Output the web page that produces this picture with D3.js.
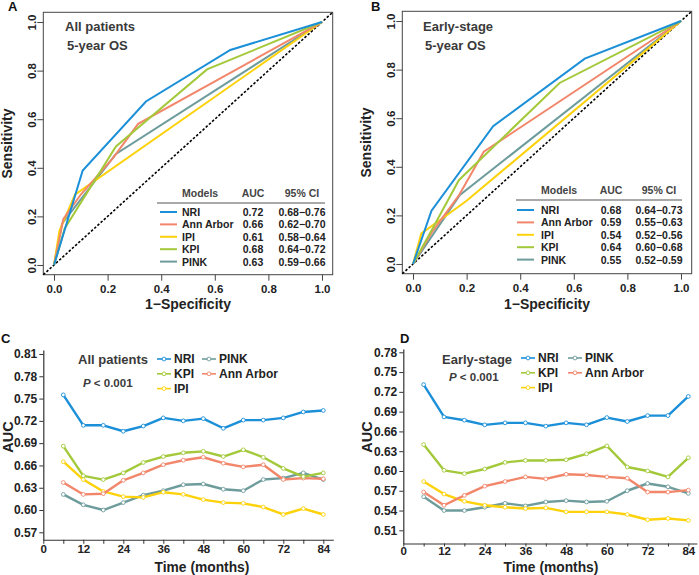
<!DOCTYPE html>
<html>
<head>
<meta charset="utf-8">
<script src="https://cdn.jsdelivr.net/npm/d3@7"></script>
<style>
  body { margin: 0; background: #fff; }
  svg { font-family: "Liberation Sans", Arial, sans-serif; font-weight: bold; }
</style>
</head>
<body>
<svg id="chart" width="699" height="575"></svg>
<script>
// models and colours
const models = ["NRI", "Ann Arbor", "IPI", "KPI", "PINK"];
const colors = { "NRI": "#1b8fd8", "Ann Arbor": "#f2866a", "IPI": "#fdd20a", "KPI": "#a3c93a", "PINK": "#6e9c9c" };

// ROC, all patients (fpr, tpr)
const rocA_NRI = [[0, 0], [0.107, 0.389], [0.343, 0.673], [0.658, 0.885], [1, 1]];
const rocA_Ann = [[0, 0], [0.035, 0.19], [0.1, 0.29], [0.22, 0.44], [0.314, 0.581], [1, 1]];
const rocA_IPI = [[0, 0], [0.02, 0.14], [0.078, 0.289], [1, 1]];
const rocA_KPI = [[0, 0], [0.04, 0.15], [0.231, 0.488], [0.571, 0.805], [1, 1]];
const rocA_PINK = [[0, 0], [0.03, 0.17], [0.231, 0.457], [1, 1]];
const aucA = ["0.72", "0.66", "0.61", "0.68", "0.63"];
const ciA = ["0.68\u22120.76", "0.62\u22120.70", "0.58\u22120.64", "0.64\u22120.72", "0.59\u22120.66"];

// ROC, early-stage
const rocB_NRI = [[0, 0], [0.069, 0.219], [0.299, 0.567], [0.641, 0.845], [1, 1]];
const rocB_Ann = [[0, 0], [0.07, 0.13], [0.17, 0.28], [0.264, 0.462], [1, 1]];
const rocB_IPI = [[0, 0], [0.031, 0.126], [0.1, 0.18], [0.2, 0.26], [1, 1]];
const rocB_KPI = [[0, 0], [0.07, 0.14], [0.171, 0.345], [0.547, 0.745], [1, 1]];
const rocB_PINK = [[0, 0], [0.175, 0.284], [1, 1]];
const aucB = ["0.68", "0.59", "0.54", "0.64", "0.55"];
const ciB = ["0.64\u22120.73", "0.55\u22120.63", "0.52\u22120.56", "0.60\u22120.68", "0.52\u22120.59"];

const rocTicks = [0, 0.2, 0.4, 0.6, 0.8, 1.0];

// time-dependent AUC
const months = [6, 12, 18, 24, 30, 36, 42, 48, 54, 60, 66, 72, 78, 84];
const monthTicks = [0, 6, 12, 18, 24, 30, 36, 42, 48, 54, 60, 66, 72, 78, 84];
const aucC_NRI = [0.755, 0.714, 0.714, 0.706, 0.713, 0.724, 0.720, 0.723, 0.710, 0.721, 0.721, 0.724, 0.732, 0.734];
const aucC_KPI = [0.686, 0.646, 0.641, 0.650, 0.664, 0.672, 0.677, 0.679, 0.672, 0.681, 0.671, 0.656, 0.645, 0.650];
const aucC_Ann = [0.637, 0.621, 0.622, 0.640, 0.650, 0.661, 0.667, 0.671, 0.663, 0.658, 0.661, 0.641, 0.643, 0.642];
const aucC_IPI = [0.665, 0.641, 0.625, 0.618, 0.617, 0.624, 0.621, 0.614, 0.610, 0.609, 0.604, 0.594, 0.602, 0.594];
const aucC_PINK = [0.621, 0.607, 0.600, 0.610, 0.620, 0.626, 0.634, 0.635, 0.628, 0.626, 0.641, 0.643, 0.650, 0.641];
const ticksC = [0.57, 0.60, 0.63, 0.66, 0.69, 0.72, 0.75, 0.78, 0.81];

const aucD_NRI = [0.731, 0.682, 0.677, 0.670, 0.673, 0.673, 0.668, 0.673, 0.670, 0.681, 0.675, 0.684, 0.684, 0.713];
const aucD_KPI = [0.640, 0.601, 0.596, 0.603, 0.613, 0.616, 0.616, 0.617, 0.626, 0.638, 0.606, 0.600, 0.591, 0.620];
const aucD_Ann = [0.568, 0.548, 0.563, 0.577, 0.584, 0.591, 0.588, 0.595, 0.594, 0.591, 0.589, 0.568, 0.568, 0.571];
const aucD_IPI = [0.584, 0.565, 0.554, 0.548, 0.545, 0.543, 0.544, 0.538, 0.538, 0.538, 0.534, 0.526, 0.528, 0.525];
const aucD_PINK = [0.561, 0.540, 0.540, 0.545, 0.551, 0.547, 0.553, 0.555, 0.553, 0.554, 0.570, 0.581, 0.576, 0.566];
const ticksD = [0.51, 0.54, 0.57, 0.60, 0.63, 0.66, 0.69, 0.72, 0.75, 0.78];

const svg = d3.select("#chart");
const textCol = "#222";

function rocPanel(o) {
    const x = d3.scaleLinear().domain([-0.04, 1.04]).range([o.x0, o.x1]);
    const y = d3.scaleLinear().domain([-0.04, 1.04]).range([o.y1, o.y0]);
    const g = svg.append("g");

    g.append("rect")
        .attr("x", x(-0.04)).attr("y", y(1.04))
        .attr("width", x(1.04) - x(-0.04)).attr("height", y(-0.04) - y(1.04))
        .attr("fill", "none").attr("stroke", "#444").attr("stroke-width", 1);

    const xa = g.append("g")
        .attr("transform", `translate(0,${y(-0.04)})`)
        .call(d3.axisBottom(x).tickValues(rocTicks).tickFormat(d3.format(".1f")).tickSize(6).tickPadding(4));
    xa.select(".domain").remove();
    xa.selectAll("text").attr("font-size", 11.5).attr("font-weight", "bold").attr("fill", textCol).attr("font-family", "Liberation Sans");
    xa.selectAll("line").attr("stroke", "#444");

    const ya = g.append("g")
        .attr("transform", `translate(${x(-0.04)},0)`)
        .call(d3.axisLeft(y).tickValues(rocTicks).tickFormat(d3.format(".1f")).tickSize(6));
    ya.select(".domain").remove();
    ya.selectAll("line").attr("stroke", "#444");
    ya.selectAll("text")
        .attr("font-size", 11.5).attr("font-weight", "bold").attr("fill", textCol).attr("font-family", "Liberation Sans")
        .attr("x", 0).attr("y", -7).attr("dy", 0)
        .attr("text-anchor", "middle")
        .attr("transform", "rotate(-90)");

    // diagonal
    g.append("line")
        .attr("x1", x(-0.04)).attr("y1", y(-0.04)).attr("x2", x(1.04)).attr("y2", y(1.04))
        .attr("stroke", "#000").attr("stroke-width", 1.6).attr("stroke-dasharray", "2.5,1.8");

    const line = d3.line().x(d => x(d[0])).y(d => y(d[1]));
    // draw order: PINK, IPI, Ann Arbor, KPI, NRI on top
    const order = ["PINK", "IPI", "Ann Arbor", "KPI", "NRI"];
    order.forEach(m => {
        g.append("path").datum(o.curves[m])
            .attr("d", line).attr("fill", "none")
            .attr("stroke", colors[m]).attr("stroke-width", 2);
    });

    // panel letter and titles
    g.append("text").attr("x", o.letterX).attr("y", 11).text(o.letter)
        .attr("font-size", 13).attr("fill", "#111");
    g.append("text").attr("x", o.titleX).attr("y", 31).text(o.title1)
        .attr("font-size", 13).attr("fill", "#3a3a3a");
    g.append("text").attr("x", o.titleX + 2).attr("y", 50).text("5-year OS")
        .attr("font-size", 13).attr("fill", "#3a3a3a");

    g.append("text").attr("transform", `translate(${o.x0 - 31},${(o.y0 + o.y1) / 2}) rotate(-90)`)
        .attr("text-anchor", "middle").text("Sensitivity").attr("font-size", 14).attr("fill", textCol);
    g.append("text").attr("x", (o.x0 + o.x1) / 2).attr("y", 309)
        .attr("text-anchor", "middle").text("1\u2212Specificity").attr("font-size", 14).attr("fill", textCol);

    // legend table
    const L = o.legend;
    const lg = g.append("g").attr("font-size", 10.5).attr("fill", textCol);
    lg.append("text").attr("x", L.nameX).attr("y", L.headY).text("Models").attr("fill", "#444");
    lg.append("text").attr("x", L.aucX).attr("y", L.headY).attr("text-anchor", "middle").text("AUC").attr("fill", "#444");
    lg.append("text").attr("x", L.ciX).attr("y", L.headY).attr("text-anchor", "middle").text("95% CI").attr("fill", "#444");
    lg.append("line").attr("x1", L.lineX0).attr("x2", L.lineX1).attr("y1", L.ruleY).attr("y2", L.ruleY)
        .attr("stroke", "#555").attr("stroke-width", 1);
    models.forEach((m, i) => {
        const yy = L.rowY + i * L.rowH;
        lg.append("line").attr("x1", L.keyX).attr("x2", L.keyX + 17).attr("y1", yy).attr("y2", yy)
            .attr("stroke", colors[m]).attr("stroke-width", 2);
        lg.append("text").attr("x", L.nameX).attr("y", yy + 4).text(m);
        lg.append("text").attr("x", L.aucX).attr("y", yy + 4).attr("text-anchor", "middle").text(o.auc[i]);
        lg.append("text").attr("x", L.ciX).attr("y", yy + 4).attr("text-anchor", "middle").text(o.ci[i]);
    });
}

rocPanel({
    x0: 43.3, x1: 332.7, y0: 12.3, y1: 274.7,
    curves: { "NRI": rocA_NRI, "Ann Arbor": rocA_Ann, "IPI": rocA_IPI, "KPI": rocA_KPI, "PINK": rocA_PINK },
    auc: aucA, ci: ciA, letter: "A", letterX: 8, title1: "All patients", titleX: 65,
    legend: { headY: 197, ruleY: 203, lineX0: 157, lineX1: 325, rowY: 212, rowH: 12.4, keyX: 160, nameX: 182, aucX: 253, ciX: 302 }
});
rocPanel({
    x0: 402.3, x1: 691.7, y0: 11.3, y1: 273.7,
    curves: { "NRI": rocB_NRI, "Ann Arbor": rocB_Ann, "IPI": rocB_IPI, "KPI": rocB_KPI, "PINK": rocB_PINK },
    auc: aucB, ci: ciB, letter: "B", letterX: 371, title1: "Early-stage", titleX: 423,
    legend: { headY: 194, ruleY: 200, lineX0: 516, lineX1: 682, rowY: 210, rowH: 12.4, keyX: 517, nameX: 541, aucX: 611, ciX: 659 }
});

function aucPanel(o) {
    const x = d3.scaleLinear().domain([0, o.xMax]).range([o.x0, o.x1]);
    const y = d3.scaleLinear().domain(o.yDom).range([o.y1, o.y0]);
    const g = svg.append("g");

    const xa = g.append("g").attr("transform", `translate(0,${o.y1})`)
        .call(d3.axisBottom(x).tickValues(monthTicks).tickFormat(d => d % 12 === 0 ? d : "")
            .tickSize(o.xTick).tickSizeOuter(0).tickPadding(o.xPad));
    const ya = g.append("g").attr("transform", `translate(${o.x0},0)`)
        .call(d3.axisLeft(y).tickValues(o.ticks).tickFormat(d3.format(".2f")).tickSize(4).tickSizeOuter(0).tickPadding(2));
    [xa, ya].forEach(a => {
        a.selectAll("text").attr("font-size", 11.5).attr("font-weight", "bold").attr("fill", textCol).attr("font-family", "Liberation Sans");
        a.selectAll("line").attr("stroke", "#333");
        a.select(".domain").attr("stroke", "#333").attr("stroke-width", 1.2);
    });
    ya.selectAll("text").attr("font-size", 12);
    g.append("text").attr("x", o.titleX).attr("y", 572).attr("text-anchor", "middle")
        .text("Time (months)").attr("font-size", 13.8).attr("fill", textCol);
    g.append("text").attr("transform", `translate(${o.aucX},437) rotate(-90)`).attr("text-anchor", "middle")
        .text("AUC").attr("font-size", 14.5).attr("fill", textCol);
    g.append("text").attr("x", o.letterX).attr("y", 343).text(o.letter).attr("font-size", 13).attr("fill", "#111");

    const line = d3.line().x((d, i) => x(months[i])).y(d => y(d));
    const order = ["PINK", "IPI", "Ann Arbor", "KPI", "NRI"];
    order.forEach(m => {
        const vals = o.series[m];
        g.append("path").datum(vals).attr("d", line).attr("fill", "none")
            .attr("stroke", colors[m]).attr("stroke-width", 2.4).attr("stroke-linejoin", "round");
        g.selectAll(null).data(vals).join("circle")
            .attr("cx", (d, i) => x(months[i])).attr("cy", d => y(d)).attr("r", 1.9)
            .attr("fill", "#fff").attr("stroke", colors[m]).attr("stroke-width", 0.9);
    });

    // legend
    const lg = g.append("g").attr("font-size", 12).attr("fill", textCol);
    lg.append("text").attr("x", o.lg.titleX).attr("y", 364).text(o.title).attr("font-size", 13).attr("fill", "#3a3a3a");
    const p = lg.append("text").attr("x", o.lg.pX).attr("y", o.lg.pY).attr("fill", "#3a3a3a").attr("font-size", 11.5);
    p.append("tspan").attr("font-style", "italic").text("P");
    p.append("tspan").text(" < 0.001");
    const entries = [["NRI", 0, 0], ["KPI", 0, 1], ["IPI", 0, 2], ["PINK", 1, 0], ["Ann Arbor", 1, 1]];
    entries.forEach(([m, c, r]) => {
        const kx = c === 0 ? o.lg.k1 : o.lg.k2;
        const yy = o.lg.rowY + r * 14.8;
        lg.append("line").attr("x1", kx).attr("x2", kx + 14).attr("y1", yy).attr("y2", yy)
            .attr("stroke", colors[m]).attr("stroke-width", 1.6);
        lg.append("circle").attr("cx", kx + 7).attr("cy", yy).attr("r", 1.9)
            .attr("fill", "#fff").attr("stroke", colors[m]).attr("stroke-width", 0.9);
        lg.append("text").attr("x", kx + 17).attr("y", yy + 4.3).text(m);
    });
}

aucPanel({
    x0: 43.3, x1: 333.3, xMax: 87, y0: 349.9, y1: 539.75, yDom: [0.56, 0.8155], ticks: ticksC,
    xTick: 4, xPad: 1.5,
    series: { "NRI": aucC_NRI, "KPI": aucC_KPI, "Ann Arbor": aucC_Ann, "IPI": aucC_IPI, "PINK": aucC_PINK },
    title: "All patients", titleX: 202, aucX: 13, letter: "C", letterX: 1,
    lg: { titleX: 78, pX: 83, pY: 387, k1: 157, k2: 202, rowY: 359 }
});
aucPanel({
    x0: 403.3, x1: 696.8, xMax: 86.5, y0: 349, y1: 543.5, yDom: [0.49, 0.785], ticks: ticksD,
    xTick: 3, xPad: 0.5,
    series: { "NRI": aucD_NRI, "KPI": aucD_KPI, "Ann Arbor": aucD_Ann, "IPI": aucD_IPI, "PINK": aucD_PINK },
    title: "Early-stage", titleX: 551, aucX: 372, letter: "D", letterX: 400,
    lg: { titleX: 442, pX: 449, pY: 381, k1: 521, k2: 568, rowY: 358 }
});
</script>
</body>
</html>
